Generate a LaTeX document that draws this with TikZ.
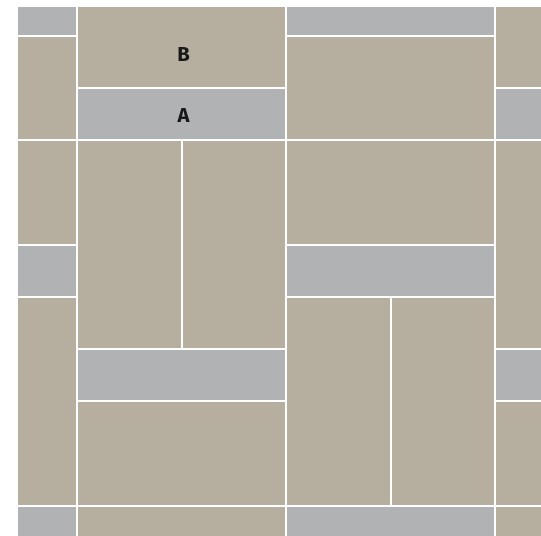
\documentclass[tikz,border=0pt]{standalone}
\usepackage{fontspec}
\setsansfont{Fira Sans}
\usepackage{tikz}
\usetikzlibrary{positioning}

\definecolor{tileTan}{RGB}{182,175,160}
\definecolor{tileGrey}{RGB}{177,178,180}

\begin{document}
\begin{tikzpicture}[
    x=1cm, y=-1cm,
    font=\sffamily\bfseries\fontsize{11}{13}\selectfont,
    tan_tile/.style={fill=tileTan, draw=white, line width=1.1pt},
    grey_tile/.style={fill=tileGrey, draw=white, line width=1.1pt},
    tile_label/.style={text=black!90, inner sep=0pt}
]
\fill[white] (-1.474,-2.68) rectangle (8.88,7.56);
\useasboundingbox (-1.474,-2.68) rectangle (8.88,7.56);

% PAVING (basketweave, clipped to the visible patch)
\begin{scope}
  \clip (-1.129,-2.545) rectangle (8.88,7.56);
  \foreach \col/\shift in {-1/-2, 0/-5, 1/-2, 2/-5} {
    \foreach \period in {-1,0,1} {
      \pgfmathsetmacro{\xa}{4*\col}
      \pgfmathsetmacro{\ya}{\shift+10*\period}
      % two lying tiles
      \draw[tan_tile] (\xa,\ya) rectangle ++(4,2);
      \draw[tan_tile] (\xa,{\ya+2}) rectangle ++(4,2);
      \draw[grey_tile] (\xa,{\ya+4}) rectangle ++(4,1);
      % two standing tiles
      \draw[tan_tile] (\xa,{\ya+5}) rectangle ++(2,4);
      \draw[tan_tile] ({\xa+2},{\ya+5}) rectangle ++(2,4);
      \draw[grey_tile] (\xa,{\ya+9}) rectangle ++(4,1);
    }
  }
\end{scope}

% LABELS
\node[tile_label] (labB) at (2.04,-1.63) {B};
\node[tile_label] (labA) at (2.04,-0.46) {A};

\end{tikzpicture}
\end{document}
